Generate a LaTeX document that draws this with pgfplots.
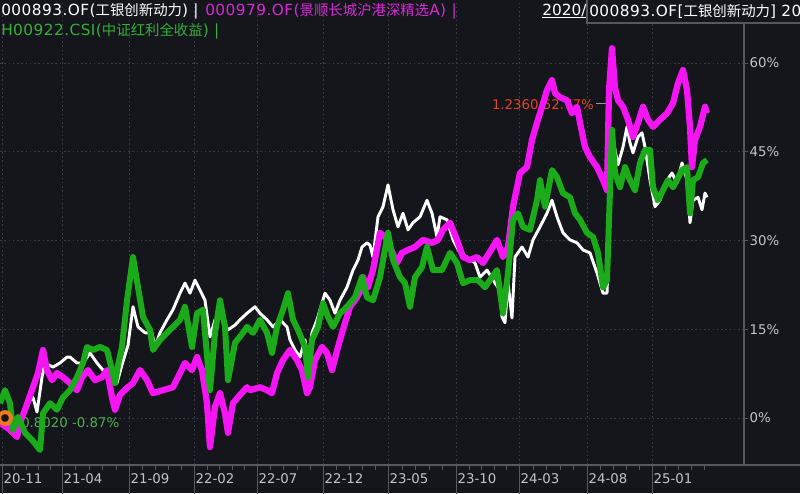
\documentclass[border=0pt]{standalone}
\usepackage{pgfplots}
\pgfplotsset{compat=1.18}
\usepackage{fontspec}
\setmainfont{DejaVu Sans}
\newfontfamily\legfont{DejaVu Sans}[LetterSpace=3]
\newfontfamily\cjk{Noto Sans CJK SC}
\newcommand{\zh}[1]{{\fontsize{10.8}{13}\selectfont\cjk #1}}

\definecolor{bg}{HTML}{14161B}
\definecolor{gridc}{HTML}{3A3D45}
\definecolor{axisc}{HTML}{55585F}
\definecolor{tickc}{HTML}{C4C4C4}
\definecolor{fundw}{HTML}{FFFFFF}
\definecolor{fundm}{HTML}{F414F4}
\definecolor{idxg}{HTML}{1AAA1A}
\definecolor{legm}{HTML}{D62AD6}
\definecolor{legg}{HTML}{36B036}
\definecolor{maxred}{HTML}{E2452C}
\definecolor{minlab}{HTML}{4DB04D}
\definecolor{orangec}{HTML}{F07A1E}

% x = position along the time axis (pixels of the original), y = return in %
\pgfplotstableread{
x y
0 -0.3
10 -1.2
18 -0.3
22 0.5
27 2.5
33 3.5
37 1.0
42 6.9
45 9.3
53 8.6
60 9.3
67 10.3
70 10.3
77 9.3
83 9.3
90 11.0
97 9.3
103 8.1
110 7.6
117 5.9
122 9.0
128 12.3
133 18.8
138 15.4
145 14.4
152 14.4
155 12.0
160 14.4
167 16.6
173 18.3
180 21.1
185 22.8
190 21.1
195 23.3
200 21.6
205 19.9
210 13.7
215 16.6
220 17.4
228 14.9
235 15.7
240 16.6
247 17.7
255 18.8
260 17.7
267 16.6
273 15.4
280 16.6
287 15.4
290 13.2
295 11.5
300 10.3
305 13.2
308 9.8
312 14.4
317 16.6
325 21.1
330 19.9
335 17.7
340 19.9
347 22.1
353 25.0
358 26.7
362 28.9
367 29.6
370 29.2
373 27.2
378 34.0
383 35.7
388 39.4
393 35.2
398 32.3
403 34.6
408 31.8
413 33.0
420 34.0
427 36.8
432 34.6
437 30.6
440 34.0
447 33.5
453 30.1
460 27.9
467 27.2
475 26.2
480 23.8
487 25.0
495 22.8
500 21.6
502 17.1
505 16.1
508 22.8
512 16.9
515 27.2
522 28.9
528 27.2
533 30.1
540 32.3
547 34.6
552 36.8
557 34.0
563 31.3
570 30.1
577 29.6
583 28.4
590 27.9
597 24.5
603 21.1
607 21.1
610 35.7
613 47.0
618 42.8
623 45.8
627 49.2
630 46.5
633 44.8
638 47.5
642 48.2
645 45.8
650 40.2
655 35.7
660 36.8
667 40.2
672 41.4
677 39.7
682 43.1
687 40.2
690 33.0
693 36.8
698 37.3
702 35.2
705 38.0
707 37.3
}\fundwhite

\pgfplotstableread{
x y
0 -0.8
10 -2.0
17 -3.2
20 -0.8
25 1.4
33 5.2
38 7.6
43 11.5
47 8.1
52 6.4
57 7.6
63 6.9
70 5.9
77 4.7
82 6.9
88 8.1
95 6.4
102 6.9
107 8.1
112 3.5
115 1.4
120 3.9
127 5.1
133 5.9
140 8.1
147 6.4
153 4.2
163 4.7
173 5.2
180 7.6
185 9.3
192 8.1
197 10.3
202 8.1
207 2.5
210 -4.9
215 1.9
220 4.2
225 0.8
228 -2.5
233 2.5
240 3.9
247 5.2
250 4.7
260 5.2
267 4.7
272 4.2
277 7.6
283 9.8
290 11.5
297 9.8
302 8.1
307 4.2
310 5.2
315 9.8
322 12.0
327 11.0
332 8.1
338 12.0
345 16.1
350 18.8
355 19.9
360 21.3
363 23.8
368 22.1
373 25.0
380 31.3
385 30.6
390 28.9
397 26.2
402 27.9
408 28.4
415 28.9
423 30.1
432 29.6
438 30.1
443 31.8
450 33.0
457 30.1
463 27.2
470 26.7
477 27.2
483 26.2
490 28.1
497 30.1
503 27.2
508 28.9
513 35.7
520 41.4
527 42.4
532 47.0
537 49.9
542 52.6
547 55.4
552 57.1
555 54.9
560 54.2
567 53.7
572 51.5
577 52.6
580 49.9
585 45.8
590 44.1
597 42.4
603 40.2
607 38.5
609 55.4
612 62.5
615 55.8
618 53.7
623 52.6
628 50.4
633 47.5
638 49.9
643 52.6
648 50.4
653 49.2
660 50.4
667 51.5
673 53.2
678 56.6
683 58.8
687 55.4
690 49.2
692 42.4
695 47.0
700 49.2
705 52.6
707 51.5
}\fundmagenta

\pgfplotstableread{
x y
0 2.5
5 4.7
10 2.5
13 -2.0
18 0.2
25 -2.5
32 -3.7
40 -5.4
43 0.8
50 2.5
57 1.4
63 3.5
70 4.7
77 6.9
83 9.3
87 12.0
93 11.5
100 12.0
107 11.5
112 8.1
115 5.9
118 8.9
122 12.0
127 19.9
133 27.2
138 22.1
143 17.1
150 14.9
153 11.5
160 13.2
170 14.9
180 16.6
185 18.8
192 12.0
197 17.7
203 18.3
210 4.7
215 14.4
220 19.9
225 15.4
228 6.4
235 12.7
243 14.4
247 15.4
253 14.4
260 16.6
267 14.4
272 11.0
277 15.4
283 18.3
288 21.1
293 16.6
298 14.9
305 12.0
308 6.9
312 13.2
318 15.4
323 19.4
328 17.1
333 15.4
340 17.7
347 18.8
355 20.4
362 23.8
367 20.4
373 19.9
380 23.8
388 31.3
393 26.7
400 23.8
405 22.8
410 18.8
415 23.8
422 25.5
427 28.9
433 25.0
442 25.0
450 27.9
457 26.2
463 22.8
470 23.3
478 23.3
485 22.1
492 23.8
497 25.0
503 17.7
508 24.5
513 33.5
518 34.6
523 32.3
530 31.8
537 36.8
540 40.2
545 35.7
552 41.9
557 40.7
563 38.0
570 37.3
575 34.6
580 33.5
587 31.3
593 30.6
598 27.9
603 22.1
607 23.3
610 38.5
612 48.7
615 41.4
620 39.0
625 42.4
630 40.2
635 38.5
640 43.1
645 45.3
650 45.3
653 39.0
658 36.8
663 38.5
668 40.2
673 39.0
682 41.9
687 42.4
690 34.6
693 40.2
698 40.7
703 43.1
707 43.6
}\indexgreen

\begin{document}
\begin{tikzpicture}[font=\fontsize{10}{12}\selectfont]
\fill[bg] (0,0) rectangle (600pt,369.75pt);
\useasboundingbox (0,0) rectangle (600pt,369.75pt);
\begin{axis}[
    at={(0pt,21pt)}, anchor=south west,
    width=558pt, height=348.75pt, scale only axis,
    xmin=0, xmax=744, ymin=-7.94, ymax=70.64,
    axis x line*=bottom, axis y line*=right,
    axis line style={axisc, line width=0.8pt, -},
    xtick={2,62,129,194,257,323,388,456,519,587,652},
    xticklabels={20-11,21-04,21-09,22-02,22-07,22-12,23-05,23-10,24-03,24-08,25-01},
    minor xtick={14,26,38,50,75,89,102,116,142,155,168,181,207,219,232,244,270,283,297,310,336,349,362,375,402,415,429,442,469,481,494,506,533,546,560,573,600,613,626,639,665,678,691,704},
    ytick={0,15,30,45,60},
    yticklabels={0\%,15\%,30\%,45\%,60\%},
    tick align=outside,
    major tick length=3pt, minor tick length=3.5pt,
    tick style={axisc, line width=0.6pt},
    xticklabel style={text=tickc, anchor=west, inner sep=1pt, xshift=0pt, yshift=-7pt},
    yticklabel style={text=tickc, anchor=west, inner sep=1pt, xshift=0pt},
    grid=major,
    major grid style={gridc, line width=0.6pt, dash pattern=on 1.2pt off 2pt},
    clip=false,
]
% labels that the lines run over
\node[anchor=east, text=maxred, inner sep=0pt] at (axis cs:594,53) {1.2360 52.77\%};
\draw[gray!80, line width=0.6pt] (axis cs:596,53.1) -- (axis cs:611,53.1);
\node[anchor=west, text=minlab, inner sep=0pt] at (axis cs:21,-0.7) {0.8020 -0.87\%};

\addplot[fundw, line width=2.2pt, line join=round] table[x=x, y=y] {\fundwhite};
\addplot[fundm, line width=4.7pt, line join=round] table[x=x, y=y] {\fundmagenta};
\addplot[idxg, line width=4.5pt, line join=round] table[x=x, y=y] {\indexgreen};
\addplot[only marks, mark=*, mark size=4.4pt,
    mark options={fill=bg, draw=orangec, line width=3pt}] coordinates {(5,0)};
\end{axis}

% texts and separators, placed in pixels of the original (origin at top left)
\begin{scope}[x=0.75pt, y=-0.75pt, shift={(0pt,369.75pt)}]
\foreach \p in {2,62,129,194,257,323,388,456,519,587,652}
    \draw[axisc, line width=0.6pt] (\p,465) -- (\p,494);
\draw[axisc, line width=0.8pt] (744,465) -- (801,465);

\node[anchor=west, inner sep=0pt, text=white] at (1,11)
    {\fontsize{11.5}{13}\legfont 000893.OF(\zh{工银创新动力}) |};
\node[anchor=west, inner sep=0pt, text=legm] at (205,11)
    {\fontsize{11.5}{13}\legfont 000979.OF(\zh{景顺长城沪港深精选}A) |};
\node[anchor=west, inner sep=0pt, text=legg] at (1,31)
    {\fontsize{11.5}{13}\legfont H00922.CSI(\zh{中证红利全收益}) |};
\node[anchor=west, inner sep=0pt, text=white] at (542,11) {\fontsize{11.5}{13}\selectfont 2020/};
\draw[white, line width=0.7pt] (542,17.5) -- (586,17.5);
\fill[bg] (587,-1) rectangle (801,23);
\draw[axisc, line width=0.8pt] (587,-1) -- (587,23) -- (801,23);
\node[anchor=west, inner sep=0pt, text=white] at (589,11)
    {\fontsize{11.5}{13}\legfont 000893.OF[\zh{工银创新动力}]\ 20};
\end{scope}
\end{tikzpicture}
\end{document}
